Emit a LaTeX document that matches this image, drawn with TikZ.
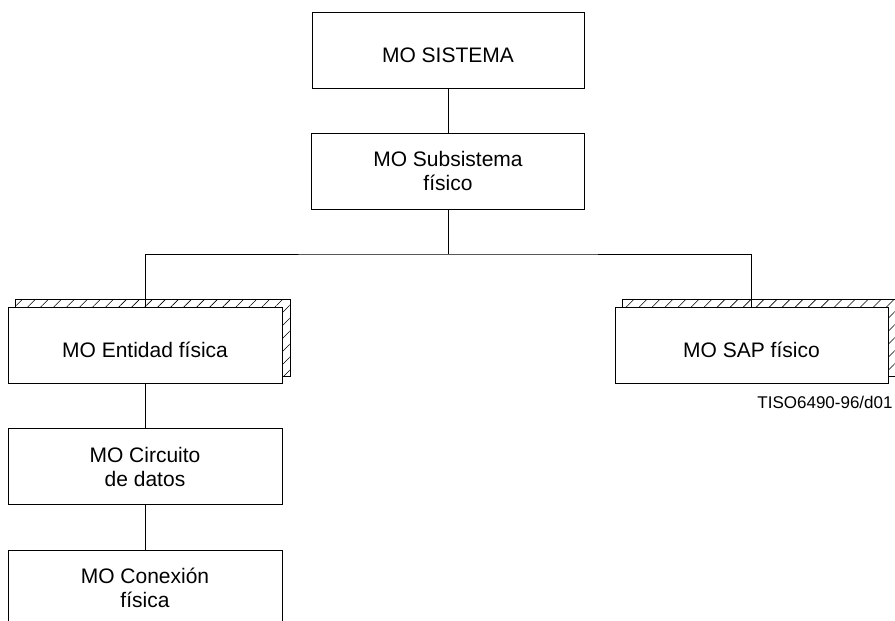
\documentclass[tikz,border=0pt]{standalone}
\usepackage{fontspec}
\setmainfont{Liberation Sans}
\usetikzlibrary{patterns.meta,backgrounds}

\tikzset{
  mobox/.style={draw, fill=white, line width=0.9pt, minimum width=274pt, minimum height=76pt,
    align=center, font=\fontsize{21}{24}\selectfont, execute at begin node={\rule{0pt}{25pt}}},
  hatchbox/.style={draw, line width=0.9pt, pattern={Lines[angle=45,distance=9.2pt,line width=0.6pt]}},
  link/.style={line width=0.9pt}
}

\begin{document}
\begin{tikzpicture}[x=1pt,y=-1pt]
\useasboundingbox (0,0) rectangle (895,621);

% Knoten
\node[mobox, minimum width=272pt] (sistema) at (448,50.5) {MO SISTEMA};
\node[mobox, minimum width=273pt] (subsistema) at (448,171) {MO Subsistema\\físico};
\node[mobox] (entidad) at (145,345) {MO Entidad física};
\node[mobox, minimum width=273pt] (sap) at (751.5,345) {MO SAP físico};
\node[mobox] (circuito) at (145,466.5) {MO Circuito\\de datos};
\node[mobox] (conexion) at (145,588) {MO Conexión\\física};
\node[font=\fontsize{17}{20}\selectfont] (figid) at (825,402) {TISO6490-96/d01};

% Schatten
\begin{scope}[on background layer]
\foreach \n in {entidad,sap}
  \draw[hatchbox] ([xshift=7.5pt,yshift=7pt]\n.north west) rectangle ([xshift=7.5pt,yshift=7pt]\n.south east);
\end{scope}

% Verbindungen
\coordinate (bus) at (448,254);
\draw[link] (sistema) -- (subsistema);
\draw[link] (subsistema) -- (bus);
\draw[link] (entidad) |- (bus) -| (sap);
\draw[link] (entidad) -- (circuito);
\draw[link] (circuito) -- (conexion);
\end{tikzpicture}
\end{document}
